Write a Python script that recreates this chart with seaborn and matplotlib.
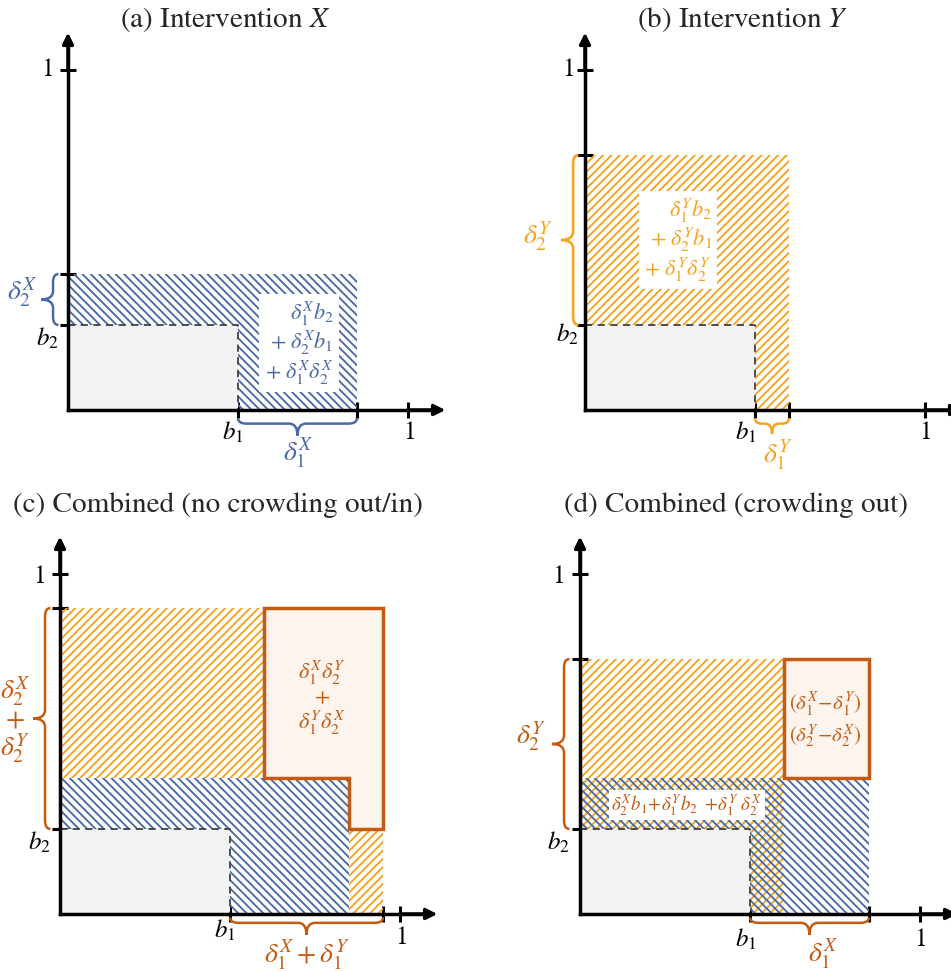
import matplotlib.pyplot as plt
import seaborn as sns
from matplotlib.path import Path
from matplotlib.patches import PathPatch

# baseline shares and intervention effects (unit square)
b1, b2 = 0.5, 0.25
d1x, d2x = 0.35, 0.15   # intervention X
d1y, d2y = 0.10, 0.50   # intervention Y

titles = ["(a) Intervention $X$", "(b) Intervention $Y$",
          "(c) Combined (no crowding out/in)", "(d) Combined (crowding out)"]

BLUE = "#4a6aa5"
ORANGE = "#f5a31e"
DARK = "#c55a11"
GREY = "#f2f2f2"
PALE = "#fdf4ee"

sns.set_theme(style="white")
plt.rcParams["font.family"] = ["STIXGeneral", "DejaVu Serif"]
plt.rcParams["mathtext.fontset"] = "stix"
plt.rcParams["hatch.linewidth"] = 1.35

W, H = 951, 972
UNIT = 340
fig = plt.figure(figsize=(W / 100, H / 100), dpi=100)

HB = "\\" * 4
HF = "/" * 4


def panel(ox, oy, xticks, yticks):
    x0, x1, y0, y1 = -0.2, 1.15, -0.2, 1.15
    ax = fig.add_axes([(ox + x0 * UNIT) / W, (H - oy + y0 * UNIT) / H,
                       (x1 - x0) * UNIT / W, (y1 - y0) * UNIT / H])
    ax.set_xlim(x0, x1)
    ax.set_ylim(y0, y1)
    ax.patch.set_alpha(0)
    sns.despine(ax=ax)
    for s in ["left", "bottom"]:
        sp = ax.spines[s]
        sp.set_position(("data", 0))
        sp.set_linewidth(2.5)
        sp.set_color("black")
        sp.set_bounds(0, 1.08)
        sp.set_zorder(5)
    ax.set_xticks(xticks)
    ax.set_yticks(yticks)
    ax.set_xticklabels([])
    ax.set_yticklabels([])
    ax.tick_params(direction="inout", length=12, width=2.2, color="black",
                   bottom=True, left=True)
    arrow = dict(arrowstyle="-|>", color="black", lw=2.5, mutation_scale=16,
                 shrinkA=0, shrinkB=0)
    ax.annotate("", xy=(1.11, 0), xytext=(1.0, 0), arrowprops=arrow, zorder=6)
    ax.annotate("", xy=(0, 1.11), xytext=(0, 1.0), arrowprops=arrow, zorder=6)
    return ax


def box(ax, x, y, w, h, color, hatch):
    ax.bar(x, h, w, bottom=y, align="edge", color="none", edgecolor=color,
           hatch=hatch, linewidth=0, zorder=1)


def base(ax):
    ax.bar(0, b2, b1, bottom=0, align="edge", color=GREY, linewidth=0, zorder=2)
    ax.plot([0, b1, b1], [b2, b2, 0], ls=(0, (4, 3)), color="#404040", lw=1.3,
            zorder=3)


def brace(ax, a, b, pos, vertical, color, curl=0.016, tip=0.035):
    m = (a + b) / 2
    r = min(0.025, (b - a) / 5)
    pts = [(a, pos + curl), (a, pos), (a + r, pos), (m - r, pos), (m, pos),
           (m, pos - tip), (m, pos), (m + r, pos), (b - r, pos), (b, pos),
           (b, pos + curl)]
    codes = [Path.MOVETO, Path.CURVE3, Path.CURVE3, Path.LINETO, Path.CURVE3,
             Path.CURVE3, Path.CURVE3, Path.CURVE3, Path.LINETO, Path.CURVE3,
             Path.CURVE3]
    if vertical:
        pts = [(q, p) for p, q in pts]
    ax.add_patch(PathPatch(Path(pts, codes), fill=False, edgecolor=color,
                           lw=1.8, clip_on=False, zorder=4))


def labels(ax, y1lab, b2lab, b1lab, x1lab):
    kw = dict(fontsize=18, ha="center", va="center", color="black")
    ax.text(*y1lab, "1", **kw)
    ax.text(*b2lab, "$b_2$", **kw)
    ax.text(*b1lab, "$b_1$", **kw)
    ax.text(*x1lab, "1", **kw)


# (a) Intervention X
ax = panel(68, 410, [b1, b1 + d1x, 1], [b2, b2 + d2x, 1])
box(ax, 0, b2, b1 + d1x, d2x, BLUE, HB)
box(ax, b1, 0, d1x, b2, BLUE, HB)
base(ax)
labels(ax, (-0.06, 1.0), (-0.06, 0.21), (0.485, -0.068), (1.005, -0.068))
ax.text(0.68, 0.197, "$\\delta_1^X b_2$\n$+\\ \\delta_2^X b_1$\n$+\\ \\delta_1^X \\delta_2^X$",
        fontsize=16, color=BLUE, ha="center", va="center", multialignment="right",
        linespacing=1.05, zorder=4,
        bbox=dict(fc="white", ec="none", boxstyle="square,pad=0.25"))
brace(ax, b2, b2 + d2x, -0.044, True, BLUE)
ax.text(-0.135, 0.344, "$\\delta_2^X$", fontsize=20, color=BLUE, ha="center", va="center")
brace(ax, b1, b1 + d1x, -0.04, False, BLUE)
ax.text(0.676, -0.125, "$\\delta_1^X$", fontsize=20, color=BLUE, ha="center", va="center")

# (b) Intervention Y
ax = panel(585, 410, [b1, b1 + d1y, 1], [b2, b2 + d2y, 1])
box(ax, 0, b2, b1 + d1y, d2y, ORANGE, HF)
box(ax, b1, 0, d1y, b2, ORANGE, HF)
base(ax)
labels(ax, (-0.05, 1.0), (-0.053, 0.22), (0.474, -0.068), (1.0, -0.068))
ax.text(0.274, 0.5, "$\\delta_1^Y b_2$\n$+\\ \\delta_2^Y b_1$\n$+\\ \\delta_1^Y \\delta_2^Y$",
        fontsize=16, color=ORANGE, ha="center", va="center", multialignment="right",
        linespacing=1.05, zorder=4,
        bbox=dict(fc="white", ec="none", boxstyle="square,pad=0.25"))
brace(ax, b2, b2 + d2y, -0.035, True, ORANGE)
ax.text(-0.138, 0.51, "$\\delta_2^Y$", fontsize=20, color=ORANGE, ha="center", va="center")
brace(ax, b1, b1 + d1y, -0.04, False, ORANGE, tip=0.03)
ax.text(0.568, -0.13, "$\\delta_1^Y$", fontsize=20, color=ORANGE, ha="center", va="center")

# (c) Combined, no crowding out/in
top_c = b2 + d2x + d2y
right_c = b1 + d1x + d1y
ax = panel(60, 914, [b1, right_c, 1], [b2, top_c, 1])
box(ax, 0, b2, b1 + d1x, d2x, BLUE, HB)
box(ax, b1, 0, d1x, b2, BLUE, HB)
box(ax, 0, b2 + d2x, b1 + d1y, d2y, ORANGE, HF)
box(ax, b1 + d1x, 0, d1y, b2, ORANGE, HF)
ax.fill([b1 + d1y, right_c, right_c, b1 + d1x, b1 + d1x, b1 + d1y],
        [top_c, top_c, b2, b2, b2 + d2x, b2 + d2x],
        facecolor=PALE, edgecolor=DARK, lw=2.5, zorder=3)
base(ax)
labels(ax, (-0.06, 0.99), (-0.06, 0.21), (0.485, -0.05), (1.005, -0.07))
ax.text(0.77, 0.635, "$\\delta_1^X \\delta_2^Y$\n$+$\n$\\delta_1^Y \\delta_2^X$",
        fontsize=16, color=DARK, ha="center", va="center", linespacing=1.05, zorder=4)
brace(ax, b2, top_c, -0.044, True, DARK)
ax.text(-0.132, 0.57, "$\\delta_2^X$\n$+$\n$\\delta_2^Y$", fontsize=20, color=DARK,
        ha="center", va="center", linespacing=0.95)
brace(ax, b1, right_c, -0.026, False, DARK)
ax.text(0.726, -0.12, "$\\delta_1^X + \\delta_1^Y$", fontsize=20, color=DARK,
        ha="center", va="center")

# (d) Combined, crowding out
top_d = b2 + d2y
ax = panel(580, 914, [b1, b1 + d1x, 1], [b2, top_d, 1])
box(ax, 0, b2 + d2x, b1 + d1y, d2y - d2x, ORANGE, HF)
box(ax, 0, b2, b1 + d1y, d2x, ORANGE, HF)
box(ax, 0, b2, b1 + d1y, d2x, BLUE, HB)
box(ax, b1, 0, d1y, b2, ORANGE, HF)
box(ax, b1, 0, d1y, b2, BLUE, HB)
box(ax, b1 + d1y, 0, d1x - d1y, b2 + d2x, BLUE, HB)
ax.bar(b1 + d1y, d2y - d2x, d1x - d1y, bottom=b2 + d2x, align="edge",
       color=PALE, edgecolor=DARK, linewidth=2.5, zorder=3)
base(ax)
labels(ax, (-0.062, 0.99), (-0.062, 0.21), (0.488, -0.076), (1.0, -0.076))
ax.text(0.72, 0.57, "$(\\delta_1^X\\!-\\!\\delta_1^Y)$\n$(\\delta_2^Y\\!-\\!\\delta_2^X)$",
        fontsize=15, color=DARK, ha="center", va="center", linespacing=1.2, zorder=4)
ax.text(0.315, 0.32, "$\\delta_2^X b_1\\!+\\!\\delta_1^Y b_2\\ +\\!\\delta_1^Y\\ \\delta_2^X$",
        fontsize=13.5, color=DARK, ha="center", va="center", zorder=4,
        bbox=dict(fc="white", ec="none", boxstyle="square,pad=0.12"))
brace(ax, b2, top_d, -0.047, True, DARK)
ax.text(-0.144, 0.52, "$\\delta_2^Y$", fontsize=20, color=DARK, ha="center", va="center")
brace(ax, b1, b1 + d1x, -0.026, False, DARK)
ax.text(0.715, -0.115, "$\\delta_1^X$", fontsize=20, color=DARK, ha="center", va="center")

# panel titles
for (x, y), t in zip([(225, 20), (743, 20), (218, 505), (736, 505)], titles):
    fig.text(x / W, 1 - y / H, t, fontsize=21, ha="center", va="center")

fig.savefig("out.png", dpi=100)
